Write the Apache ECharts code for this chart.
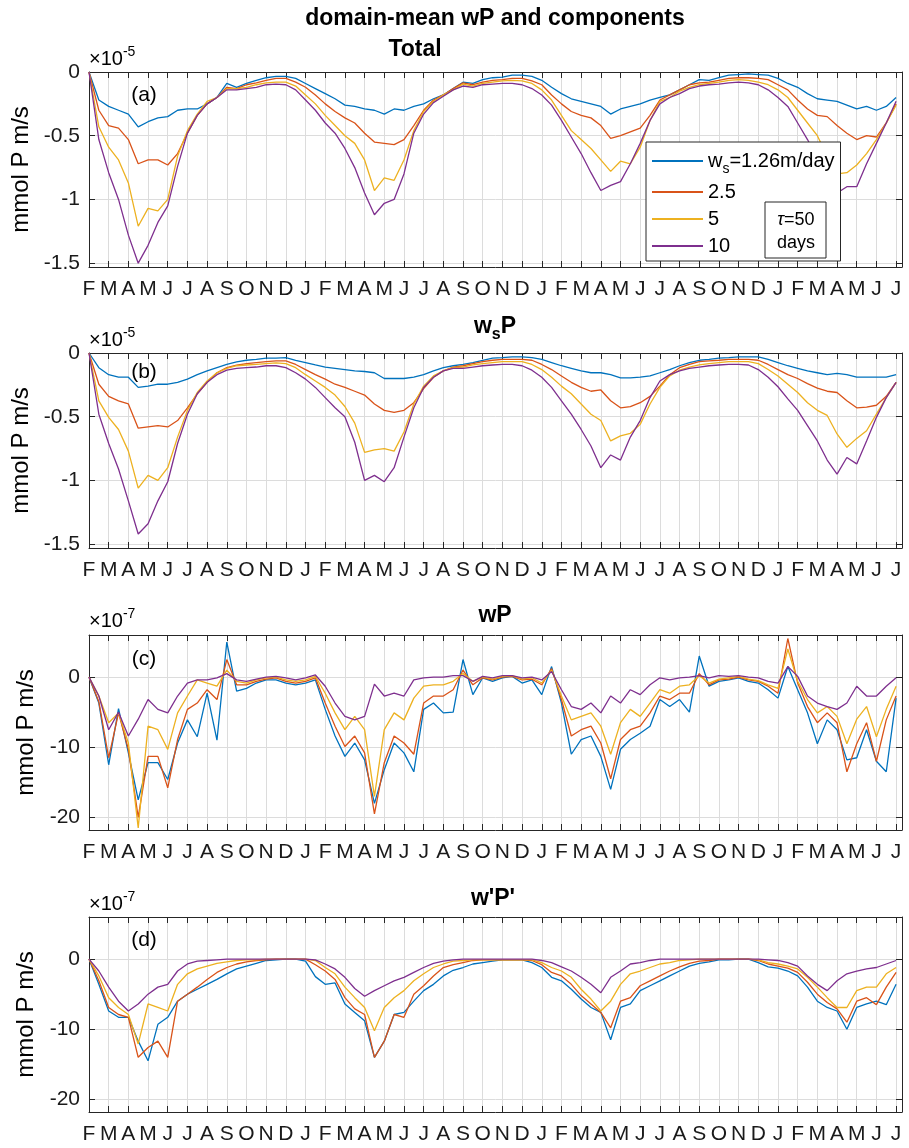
<!DOCTYPE html>
<html>
<head>
<meta charset="utf-8">
<title>domain-mean wP and components</title>
<script src="https://cdn.jsdelivr.net/npm/echarts@6/dist/echarts.min.js"></script>
<style>
html, body { margin: 0; padding: 0; background: #fff; }
#chart { width: 909px; height: 1148px; }
</style>
</head>
<body>
<div id="chart"></div>
<script>
// month tick labels, Feb (year 1) .. Jul (year 4), one per month start
var monthLabels = ['F','M','A','M','J','J','A','S','O','N','D',
  'J','F','M','A','M','J','J','A','S','O','N','D',
  'J','F','M','A','M','J','J','A','S','O','N','D',
  'J','F','M','A','M','J','J'];

var seriesNames = ['ws=1.26m/day', '2.5', '5', '10'];
var lineColors = ['#0072BD', '#D95319', '#EDB120', '#7E2F8E'];

// values sampled every half month (index/2 = months since first Feb)
// (a) Total, units of 1e-5 mmol P m/s
var totalBlue = [
  0, -0.22, -0.27, -0.30, -0.33, -0.43, -0.39, -0.36, -0.35, -0.30, -0.29, -0.29,
  -0.25, -0.20, -0.09, -0.12, -0.09, -0.065, -0.045, -0.035, -0.035, -0.05, -0.09, -0.13,
  -0.17, -0.21, -0.26, -0.27, -0.29, -0.30, -0.33, -0.29, -0.30, -0.27, -0.25, -0.21,
  -0.18, -0.13, -0.08, -0.09, -0.06, -0.045, -0.04, -0.025, -0.025, -0.035, -0.065, -0.12,
  -0.17, -0.21, -0.23, -0.25, -0.27, -0.33, -0.29, -0.27, -0.25, -0.22, -0.20, -0.18,
  -0.14, -0.10, -0.06, -0.065, -0.045, -0.025, -0.02, -0.015, -0.02, -0.025, -0.05, -0.09,
  -0.12, -0.17, -0.21, -0.22, -0.23, -0.26, -0.29, -0.27, -0.30, -0.27,
  -0.20];
var totalRed = [
  0, -0.30, -0.42, -0.44, -0.53, -0.72, -0.69, -0.69, -0.73, -0.64, -0.48, -0.34,
  -0.25, -0.20, -0.12, -0.13, -0.10, -0.085, -0.065, -0.05, -0.05, -0.08, -0.12, -0.18,
  -0.25, -0.31, -0.36, -0.40, -0.48, -0.55, -0.56, -0.57, -0.53, -0.42, -0.30, -0.22,
  -0.18, -0.13, -0.085, -0.10, -0.08, -0.065, -0.06, -0.05, -0.05, -0.07, -0.10, -0.18,
  -0.25, -0.31, -0.34, -0.36, -0.42, -0.52, -0.50, -0.47, -0.44, -0.34, -0.22, -0.18,
  -0.14, -0.10, -0.085, -0.08, -0.065, -0.05, -0.045, -0.045, -0.05, -0.06, -0.10, -0.14,
  -0.22, -0.29, -0.34, -0.35, -0.42, -0.48, -0.53, -0.50, -0.51, -0.40,
  -0.25];
var totalYellow = [
  0, -0.43, -0.59, -0.69, -0.87, -1.21, -1.07, -1.09, -1.00, -0.66, -0.46, -0.33,
  -0.23, -0.20, -0.13, -0.13, -0.12, -0.10, -0.085, -0.08, -0.08, -0.11, -0.18, -0.25,
  -0.34, -0.42, -0.50, -0.56, -0.69, -0.93, -0.83, -0.85, -0.69, -0.46, -0.31, -0.23,
  -0.18, -0.14, -0.095, -0.11, -0.09, -0.08, -0.07, -0.065, -0.07, -0.09, -0.14, -0.22,
  -0.34, -0.46, -0.53, -0.60, -0.69, -0.78, -0.70, -0.72, -0.59, -0.38, -0.23, -0.20,
  -0.15, -0.12, -0.10, -0.09, -0.08, -0.065, -0.06, -0.065, -0.08, -0.10, -0.14, -0.20,
  -0.30, -0.40, -0.50, -0.66, -0.80, -0.79, -0.73, -0.64, -0.53, -0.40,
  -0.26];
var totalPurple = [
  0, -0.53, -0.79, -1.00, -1.28, -1.50, -1.36, -1.18, -1.05, -0.74, -0.48, -0.34,
  -0.25, -0.20, -0.14, -0.14, -0.13, -0.12, -0.10, -0.095, -0.10, -0.14, -0.22, -0.30,
  -0.40, -0.48, -0.60, -0.75, -0.95, -1.12, -1.03, -1.00, -0.80, -0.48, -0.33, -0.24,
  -0.19, -0.14, -0.11, -0.12, -0.10, -0.095, -0.09, -0.09, -0.10, -0.13, -0.18, -0.26,
  -0.38, -0.51, -0.64, -0.79, -0.93, -0.89, -0.86, -0.72, -0.56, -0.38, -0.25, -0.20,
  -0.17, -0.13, -0.11, -0.10, -0.095, -0.085, -0.08, -0.085, -0.10, -0.14, -0.20, -0.27,
  -0.40, -0.53, -0.68, -0.82, -0.95, -0.90, -0.90, -0.72, -0.56, -0.40,
  -0.23];

// (b) wsP, units of 1e-5
var wsBlue = [
  0, -0.115, -0.17, -0.19, -0.19, -0.27, -0.26, -0.245, -0.245, -0.23, -0.205, -0.17,
  -0.14, -0.115, -0.09, -0.07, -0.057, -0.05, -0.04, -0.04, -0.036, -0.057, -0.075, -0.094,
  -0.11, -0.12, -0.13, -0.14, -0.145, -0.155, -0.20, -0.20, -0.20, -0.19, -0.17, -0.14,
  -0.115, -0.10, -0.09, -0.075, -0.057, -0.04, -0.036, -0.03, -0.03, -0.036, -0.05, -0.075,
  -0.10, -0.12, -0.14, -0.155, -0.155, -0.17, -0.195, -0.195, -0.19, -0.18, -0.155, -0.13,
  -0.10, -0.075, -0.057, -0.05, -0.04, -0.036, -0.03, -0.03, -0.03, -0.05, -0.075, -0.10,
  -0.12, -0.14, -0.155, -0.17, -0.16, -0.17, -0.19, -0.19, -0.19, -0.19,
  -0.17];
var wsRed = [
  0, -0.245, -0.34, -0.375, -0.40, -0.59, -0.58, -0.57, -0.58, -0.53, -0.43, -0.32,
  -0.23, -0.155, -0.115, -0.096, -0.083, -0.075, -0.068, -0.062, -0.062, -0.09, -0.13, -0.17,
  -0.205, -0.245, -0.27, -0.30, -0.33, -0.40, -0.45, -0.465, -0.45, -0.39, -0.28, -0.19,
  -0.14, -0.11, -0.10, -0.083, -0.068, -0.057, -0.05, -0.05, -0.05, -0.057, -0.09, -0.13,
  -0.18, -0.23, -0.27, -0.30, -0.29, -0.375, -0.43, -0.42, -0.39, -0.34, -0.26, -0.17,
  -0.115, -0.09, -0.068, -0.062, -0.057, -0.05, -0.05, -0.05, -0.057, -0.09, -0.13, -0.17,
  -0.20, -0.24, -0.275, -0.30, -0.31, -0.375, -0.43, -0.425, -0.41, -0.34,
  -0.23];
var wsYellow = [
  0, -0.375, -0.505, -0.60, -0.77, -1.06, -0.96, -1.00, -0.90, -0.66, -0.45, -0.31,
  -0.22, -0.155, -0.12, -0.10, -0.094, -0.09, -0.083, -0.078, -0.083, -0.115, -0.17, -0.22,
  -0.27, -0.33, -0.42, -0.55, -0.78, -0.76, -0.75, -0.77, -0.62, -0.40, -0.26, -0.18,
  -0.14, -0.115, -0.11, -0.094, -0.083, -0.075, -0.068, -0.068, -0.068, -0.09, -0.13, -0.19,
  -0.26, -0.32, -0.40, -0.48, -0.53, -0.69, -0.65, -0.63, -0.56, -0.40, -0.27, -0.18,
  -0.135, -0.11, -0.094, -0.083, -0.075, -0.068, -0.068, -0.068, -0.083, -0.13, -0.18, -0.245,
  -0.31, -0.39, -0.45, -0.49, -0.635, -0.74, -0.67, -0.61, -0.48, -0.35,
  -0.23];
var wsPurple = [
  0, -0.48, -0.71, -0.91, -1.16, -1.42, -1.34, -1.16, -1.01, -0.71, -0.48, -0.32,
  -0.23, -0.17, -0.135, -0.12, -0.115, -0.11, -0.10, -0.10, -0.115, -0.155, -0.205, -0.27,
  -0.35, -0.43, -0.50, -0.70, -1.00, -0.96, -1.01, -0.90, -0.66, -0.43, -0.27, -0.19,
  -0.14, -0.12, -0.12, -0.11, -0.10, -0.094, -0.09, -0.09, -0.10, -0.135, -0.19, -0.27,
  -0.375, -0.48, -0.60, -0.73, -0.90, -0.80, -0.84, -0.66, -0.53, -0.35, -0.22, -0.17,
  -0.14, -0.12, -0.11, -0.10, -0.094, -0.09, -0.09, -0.094, -0.13, -0.19, -0.265, -0.36,
  -0.45, -0.57, -0.69, -0.84, -0.95, -0.82, -0.87, -0.69, -0.505, -0.35,
  -0.23];

// (c) wP, units of 1e-7
var wpBlue = [
  0, -3.7, -12.5, -4.5, -10.8, -17.5, -12.2, -12.2, -14.6, -9.4, -6.1, -8.5,
  -2.3, -9.0, 5.0, -2.0, -1.6, -0.85, -0.4, -0.4, -0.85, -1.1, -0.85, -0.4,
  -4.6, -8.4, -11.3, -9.4, -11.8, -18.0, -13.2, -9.4, -10.8, -13.5, -4.6, -3.7,
  -5.1, -5.0, 2.5, -2.5, -0.1, -0.6, -0.1, 0.1, -0.85, -0.4, -2.5, 1.5,
  -3.7, -11.0, -8.9, -8.4, -11.3, -16.0, -10.3, -8.9, -8.0, -7.0, -3.2, -4.2,
  -3.2, -5.0, 3.0, -1.3, -0.6, -0.4, -0.1, -0.6, -0.85, -1.8, -3.0, 1.5,
  -1.8, -5.1, -9.5, -6.1, -7.5, -11.8, -11.5, -7.5, -12.0, -13.5,
  -3.0];
var wpRed = [
  0, -3.5, -11.5, -5.1, -10.3, -20.0, -11.3, -11.3, -15.8, -8.9, -4.6, -3.7,
  -1.8, -3.2, 2.5, -1.1, -1.1, -0.6, -0.3, -0.1, -0.6, -0.85, -0.6, -0.1,
  -3.7, -7.0, -9.9, -8.4, -10.8, -19.5, -12.2, -8.4, -9.4, -11.0, -3.7, -2.7,
  -2.7, -1.8, 1.0, -1.1, -0.1, -0.4, 0, 0.1, -0.4, -0.3, -1.1, 1.2,
  -3.2, -8.4, -7.5, -7.0, -9.4, -14.5, -8.9, -7.5, -7.0, -5.1, -2.7, -3.2,
  -2.3, -2.3, 0.5, -1.1, -0.4, -0.3, 0, -0.4, -0.6, -1.3, -2.3, 5.5,
  -0.85, -4.2, -6.5, -5.1, -6.5, -13.5, -9.5, -6.5, -12.0, -6.1,
  -2.7];
var wpYellow = [
  0, -2.7, -6.5, -5.1, -9.4, -21.5, -7.0, -7.5, -10.3, -5.1, -2.7, -0.4,
  -0.85, -1.3, 1.0, -0.6, -0.85, -0.4, -0.1, 0, -0.4, -0.6, -0.4, 0.1,
  -2.3, -5.1, -7.5, -5.6, -7.5, -17.0, -7.5, -5.1, -6.1, -3.0, -1.3, -1.1,
  -1.1, -0.6, 0.5, -0.6, 0, -0.3, 0.1, 0.2, -0.3, -0.1, -0.85, 1.0,
  -2.7, -6.1, -5.6, -5.1, -7.0, -11.0, -6.5, -4.6, -5.6, -3.7, -1.8, -2.3,
  -1.3, -1.1, 0.2, -0.85, -0.3, -0.1, 0.1, -0.3, -0.5, -1.1, -1.6, 4.0,
  -0.6, -3.2, -5.1, -4.2, -5.6, -9.5, -6.0, -4.2, -8.5, -4.6,
  -1.3];
var wpPurple = [
  0, -2.7, -7.5, -5.0, -8.4, -6.0, -3.2, -4.6, -5.1, -2.7, -0.85, -0.4,
  -0.4, -0.1, 0.5, -0.4, -0.6, -0.3, 0, 0.1, -0.1, -0.4, -0.1, 0.3,
  -1.3, -3.7, -5.6, -6.1, -5.6, -1.0, -2.7, -2.3, -2.7, -0.4, -0.1, 0,
  0, 0.2, 0.2, -0.6, 0.1, -0.1, 0.2, 0.2, -0.1, 0, -0.4, 0.8,
  -1.8, -4.2, -4.6, -3.7, -5.1, -2.7, -3.7, -1.8, -2.5, -1.1, -0.1, -0.4,
  -0.1, 0, 0.2, -0.1, 0.2, 0.1, 0.2, 0, -0.1, -0.6, -0.85, 1.5,
  0.1, -2.7, -3.7, -4.2, -4.6, -3.7, -1.3, -2.7, -2.7, -1.3,
  -0.1];

// (d) w'P', units of 1e-7
var eddyBlue = [
  0, -3.6, -7.4, -8.3, -8.3, -11.7, -14.5, -9.3, -8.3, -6.0, -5.0, -4.3,
  -3.6, -2.9, -2.1, -1.4, -1.0, -0.6, -0.2, -0.1, 0, 0, -0.3, -2.5,
  -3.6, -3.4, -6.4, -7.6, -8.8, -14.0, -11.7, -7.9, -7.6, -6.0, -4.5, -3.6,
  -2.4, -1.6, -1.2, -0.7, -0.5, -0.3, -0.1, -0.1, -0.1, -0.5, -1.2, -2.6,
  -3.1, -4.3, -5.7, -6.9, -7.6, -11.5, -6.9, -6.4, -4.5, -3.8, -3.1, -2.4,
  -1.7, -1.0, -0.6, -0.4, -0.1, -0.1, 0, 0, -0.5, -1.1, -1.3, -1.7,
  -2.4, -4.0, -6.0, -6.9, -7.4, -10.0, -6.9, -6.4, -6.0, -6.5,
  -3.6];
var eddyRed = [
  0, -3.1, -6.9, -7.9, -8.3, -14.0, -12.6, -11.7, -14.0, -6.0, -5.0, -4.0,
  -2.9, -1.9, -1.2, -0.7, -0.4, -0.2, -0.1, 0, 0, 0, 0, -0.8,
  -1.7, -2.9, -5.5, -7.1, -7.9, -14.0, -11.7, -7.9, -8.3, -5.0, -3.8, -2.4,
  -1.2, -0.8, -0.5, -0.2, -0.1, -0.1, -0.1, -0.1, -0.1, -0.2, -0.8, -1.9,
  -2.4, -3.6, -5.2, -6.4, -7.6, -9.8, -6.0, -5.5, -3.8, -3.1, -2.4, -1.7,
  -1.1, -0.6, -0.3, -0.2, 0, 0, 0, 0, -0.2, -0.7, -1.0, -1.3,
  -1.9, -3.3, -5.0, -6.2, -7.1, -9.0, -6.0, -5.5, -6.5, -4.0,
  -1.9];
var eddyYellow = [
  0, -2.4, -5.5, -6.9, -7.9, -12.1, -6.4, -6.9, -7.4, -3.6, -2.1, -1.4,
  -1.0, -0.6, -0.4, -0.2, -0.1, -0.1, 0, 0, 0, 0, 0, -0.2,
  -1.2, -2.1, -4.0, -5.5, -6.9, -10.2, -6.9, -5.5, -4.5, -3.1, -2.1, -1.2,
  -0.7, -0.3, -0.2, -0.1, -0.1, -0.1, -0.1, -0.1, -0.1, -0.1, -0.5, -1.2,
  -1.7, -2.6, -4.3, -5.7, -7.4, -6.0, -3.6, -2.1, -1.7, -1.2, -0.7, -0.5,
  -0.2, -0.1, 0, 0, 0, 0, 0, 0, -0.1, -0.5, -0.7, -1.0,
  -1.4, -2.6, -4.0, -5.5, -6.9, -6.9, -4.5, -4.0, -4.0, -2.1,
  -1.2];
var eddyPurple = [
  0, -1.7, -4.0, -6.0, -7.4, -6.4, -5.0, -4.0, -3.6, -1.7, -0.7, -0.3,
  -0.2, -0.1, 0, 0, 0, 0, 0, 0, 0, 0, 0, -0.1,
  -0.7, -1.4, -2.6, -4.2, -5.3, -4.5, -3.8, -3.1, -2.6, -1.9, -1.2, -0.6,
  -0.3, -0.1, 0, 0, 0, 0, 0, 0, 0, 0, -0.2, -0.5,
  -1.1, -1.7, -2.6, -3.6, -4.8, -2.6, -1.7, -0.7, -0.5, -0.2, 0, 0,
  0, 0, 0, 0, 0, 0, 0, 0, 0, -0.1, -0.2, -0.5,
  -1.0, -2.4, -3.6, -4.5, -3.1, -2.1, -1.7, -1.4, -1.2, -0.7,
  -0.2];

var FONT = '"Liberation Sans", Arial, Helvetica, sans-serif';
var AXIS_COLOR = '#262626';

var panels = [
  { lines: [totalBlue, totalRed, totalYellow, totalPurple], yMin: -1.53, yMax: 0, ticks: [-1.5, -1, -0.5, 0], top: 72 },
  { lines: [wsBlue, wsRed, wsYellow, wsPurple], yMin: -1.53, yMax: 0, ticks: [-1.5, -1, -0.5, 0], top: 353 },
  { lines: [wpBlue, wpRed, wpYellow, wpPurple], yMin: -21.8, yMax: 6, ticks: [-20, -10, 0], top: 635 },
  { lines: [eddyBlue, eddyRed, eddyYellow, eddyPurple], yMin: -21.8, yMax: 6, ticks: [-20, -10, 0], top: 917 }
];

var chart = echarts.init(document.getElementById('chart'));

var grids = [], xAxes = [], yAxes = [], series = [];
panels.forEach(function (p, i) {
  grids.push({ left: 89, right: 7, top: p.top, height: 195 });

  // bottom axis with month letters
  xAxes.push({
    type: 'value', gridIndex: i, position: 'bottom', min: 0, max: 41.3, interval: 1,
    axisLine: { show: true, onZero: false, lineStyle: { color: AXIS_COLOR, width: 1 } },
    axisTick: { show: true, inside: true, length: 6, lineStyle: { color: AXIS_COLOR } },
    axisLabel: {
      show: true, margin: 12, fontSize: 21, color: '#1a1a1a', fontFamily: FONT,
      formatter: function (v) { return monthLabels[v] || ''; }
    },
    splitLine: { show: true, lineStyle: { color: '#dcdcdc', width: 1 } }
  });
  // top edge of the box, ticks only
  xAxes.push({
    type: 'value', gridIndex: i, position: 'top', min: 0, max: 41.3, interval: 1,
    axisLine: { show: true, onZero: false, lineStyle: { color: AXIS_COLOR, width: 1 } },
    axisTick: { show: true, inside: true, length: 6, lineStyle: { color: AXIS_COLOR } },
    axisLabel: { show: false },
    splitLine: { show: false }
  });

  yAxes.push({
    type: 'value', gridIndex: i, position: 'left', min: p.yMin, max: p.yMax,
    name: 'mmol P m/s', nameLocation: 'middle', nameGap: 50,
    nameTextStyle: { fontSize: 24, color: '#000', fontFamily: FONT },
    axisLine: { show: true, onZero: false, lineStyle: { color: AXIS_COLOR, width: 1 } },
    axisTick: { show: true, inside: true, length: 6, customValues: p.ticks, lineStyle: { color: AXIS_COLOR } },
    axisLabel: { show: true, customValues: p.ticks, margin: 9, fontSize: 21, color: '#1a1a1a', fontFamily: FONT },
    splitLine: { show: true, lineStyle: { color: '#dcdcdc', width: 1 } }
  });
  yAxes.push({
    type: 'value', gridIndex: i, position: 'right', min: p.yMin, max: p.yMax,
    axisLine: { show: true, onZero: false, lineStyle: { color: AXIS_COLOR, width: 1 } },
    axisTick: { show: true, inside: true, length: 6, customValues: p.ticks, lineStyle: { color: AXIS_COLOR } },
    axisLabel: { show: false },
    splitLine: { show: false }
  });

  p.lines.forEach(function (vals, j) {
    series.push({
      type: 'line', name: seriesNames[j], xAxisIndex: 2 * i, yAxisIndex: 2 * i,
      showSymbol: false, symbol: 'none', silent: true,
      lineStyle: { color: lineColors[j], width: 1.3 },
      itemStyle: { color: lineColors[j] },
      data: vals.map(function (v, k) { return [k / 2, v]; })
    });
  });
});

function txt(x, y, text, size, bold) {
  return {
    type: 'text', x: x, y: y, z: 10,
    style: {
      text: text, fontSize: size, fontWeight: bold ? 'bold' : 'normal',
      fontFamily: FONT, fill: '#000', align: 'center', verticalAlign: 'middle'
    }
  };
}

var expRich = {
  m: { fontSize: 20, fontFamily: FONT, color: '#1a1a1a', lineHeight: 28 },
  e: { fontSize: 14, fontFamily: FONT, color: '#1a1a1a', lineHeight: 14, verticalAlign: 'top' }
};
function exponent(y, e) {
  return {
    type: 'text', x: 89, y: y, z: 10,
    style: { text: '{m|×10}{e|' + e + '}', rich: expRich, align: 'left', verticalAlign: 'middle' }
  };
}

var graphics = [
  txt(495, 19, 'domain-mean wP and components', 23, true),
  txt(415, 50, 'Total', 23, true),
  {
    type: 'text', x: 495, y: 327, z: 10,
    style: {
      text: '{b|w}{s|s}{b|P}', align: 'center', verticalAlign: 'middle',
      rich: {
        b: { fontSize: 23, fontWeight: 'bold', fontFamily: FONT, color: '#000', lineHeight: 32 },
        s: { fontSize: 16, fontWeight: 'bold', fontFamily: FONT, color: '#000', lineHeight: 16, verticalAlign: 'bottom' }
      }
    }
  },
  txt(495, 616, 'wP', 23, true),
  txt(493, 899, "w'P'", 23, true),
  exponent(59, '-5'), exponent(340, '-5'), exponent(621, '-7'), exponent(904, '-7'),
  txt(144, 95, '(a)', 21, false),
  txt(144, 372, '(b)', 21, false),
  txt(144, 659, '(c)', 21, false),
  txt(144, 940, '(d)', 21, false),
  {
    type: 'group', x: 765, y: 202, z: 20,
    children: [
      { type: 'rect', z: 20, shape: { x: 0, y: 0, width: 61, height: 56 },
        style: { fill: '#fff', stroke: AXIS_COLOR, lineWidth: 1 } },
      { type: 'text', z: 21, x: 31, y: 18,
        style: { text: '{t|τ}{n|=50}', align: 'center', verticalAlign: 'middle',
          rich: { t: { fontSize: 18, fontStyle: 'italic', fontFamily: FONT, color: '#000' },
                  n: { fontSize: 18, fontFamily: FONT, color: '#000' } } } },
      { type: 'text', z: 21, x: 31, y: 41,
        style: { text: 'days', fontSize: 18, fontFamily: FONT, fill: '#000', align: 'center', verticalAlign: 'middle' } }
    ]
  }
];

chart.setOption({
  animation: false,
  backgroundColor: '#fff',
  textStyle: { fontFamily: FONT },
  grid: grids,
  xAxis: xAxes,
  yAxis: yAxes,
  legend: {
    data: seriesNames, orient: 'vertical', left: 646, top: 142,
    icon: 'rect', itemWidth: 51, itemHeight: 2, itemGap: 5,
    padding: [8, 6, 4, 6], backgroundColor: '#fff',
    borderColor: AXIS_COLOR, borderWidth: 1, selectedMode: false,
    textStyle: {
      fontSize: 20, color: '#000', fontFamily: FONT, lineHeight: 22,
      rich: {
        n: { fontSize: 20, color: '#000', fontFamily: FONT, lineHeight: 22 },
        s: { fontSize: 14, color: '#000', fontFamily: FONT, padding: [16, 0, 0, 0] }
      }
    },
    formatter: function (name) {
      return name === seriesNames[0] ? '{n|w}{s|s}{n|=1.26m/day}' : name;
    }
  },
  graphic: graphics,
  series: series
});
</script>
</body>
</html>
